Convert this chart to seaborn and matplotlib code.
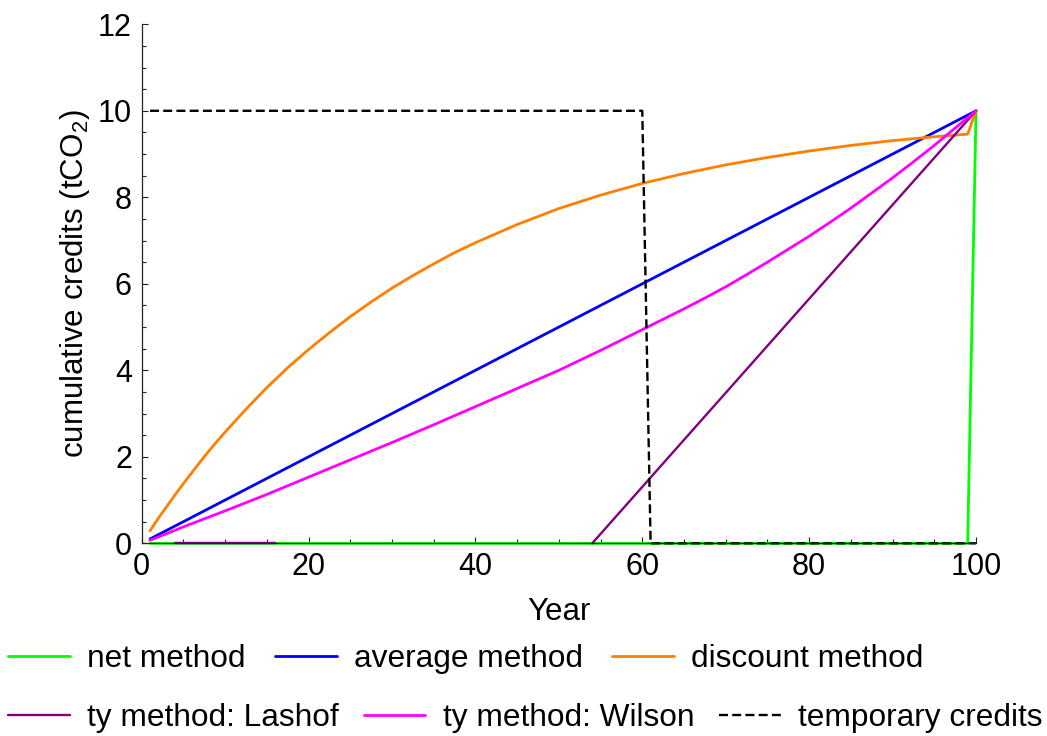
import numpy as np
import pandas as pd
import seaborn as sns
import matplotlib.pyplot as plt
from matplotlib.ticker import MultipleLocator

# ---- data ----
net_years = [1, 99, 100]
net_credits = [0, 0, 10]

avg_years = [1, 100]
avg_credits = [0.1, 10]

disc_years = [1, 2, 3, 4, 5, 6, 7, 8, 9, 10, 12.5, 15, 17.5, 20, 22.5, 25, 27.5, 30, 32.5, 35,
              37.5, 40, 45, 50, 55, 60, 65, 70, 75, 80, 85, 90, 95, 99, 100]
disc_credits = [0.29, 0.58, 0.85, 1.12, 1.38, 1.63, 1.88, 2.12, 2.35, 2.57, 3.10, 3.60, 4.06,
                4.48, 4.87, 5.24, 5.58, 5.90, 6.19, 6.46, 6.72, 6.95, 7.37, 7.74, 8.05, 8.32,
                8.55, 8.75, 8.92, 9.07, 9.20, 9.31, 9.40, 9.46, 10.0]

lashof_years = [4, 16, 54, 100]
lashof_credits = [0, 0, 0, 10]
lashof_segment = [0, 0, 1, 1]

wilson_years = [1, 5, 10, 15, 20, 25, 30, 35, 40, 45, 50, 55, 60, 62.5, 65, 67.5, 70, 72.5,
                75, 77.5, 80, 82.5, 85, 87.5, 90, 92.5, 95, 97.5, 100]
wilson_credits = [0.07, 0.38, 0.75, 1.13, 1.53, 1.93, 2.33, 2.74, 3.16, 3.58, 4.00, 4.46, 4.94,
                  5.18, 5.42, 5.67, 5.93, 6.21, 6.50, 6.80, 7.10, 7.42, 7.75, 8.10, 8.45,
                  8.82, 9.20, 9.60, 10.0]

temp_years = [1, 60, 61, 100]
temp_credits = [10, 10, 0, 0]

labels = ["net method", "average method", "discount method",
          "ty method: Lashof", "ty method: Wilson", "temporary credits"]
colors = ["#00FF00", "#0000FF", "#FF7F00", "#800080", "#FF00FF", "#000000"]

x_ticks_major = 20
y_ticks_major = 2

# ---- style ----
sns.set_style("white")
plt.rcParams['font.family'] = ['Liberation Sans', 'DejaVu Sans']
plt.rcParams['mathtext.fontset'] = 'custom'
plt.rcParams['mathtext.rm'] = 'Liberation Sans'
plt.rcParams['mathtext.it'] = 'Liberation Sans:italic'
for k in ['text.color', 'axes.labelcolor', 'xtick.color', 'ytick.color']:
    plt.rcParams[k] = 'black'

fig = plt.figure(figsize=(10.47, 7.36), dpi=100)
ax = fig.add_axes([0.1353, 0.2618, 0.7969, 0.7052])

lw = 2.0
handles = []

sns.lineplot(x=net_years, y=net_credits, ax=ax, color=colors[0], lw=lw,
             estimator=None, legend=False)
handles.append(ax.lines[-1])

sns.lineplot(x=avg_years, y=avg_credits, ax=ax, color=colors[1], lw=lw,
             estimator=None, legend=False)
handles.append(ax.lines[-1])

sns.lineplot(x=disc_years, y=disc_credits, ax=ax, color=colors[2], lw=lw,
             estimator=None, legend=False)
handles.append(ax.lines[-1])

lashof_df = pd.DataFrame({"year": lashof_years, "credits": lashof_credits,
                          "seg": lashof_segment})
sns.lineplot(data=lashof_df, x="year", y="credits", units="seg", ax=ax,
             color=colors[3], lw=1.7, estimator=None, legend=False)
handles.append(ax.lines[-1])

sns.lineplot(x=wilson_years, y=wilson_credits, ax=ax, color=colors[4], lw=lw,
             estimator=None, legend=False)
handles.append(ax.lines[-1])

sns.lineplot(x=temp_years, y=temp_credits, ax=ax, color=colors[5], lw=1.7,
             estimator=None, legend=False, sort=False)
ax.lines[-1].set_dashes([3.8, 1.8])
handles.append(ax.lines[-1])

for ln in ax.lines:
    ln.set_clip_on(False)
    ln.set_solid_joinstyle("round")

ax.set_xlim(0, 100)
ax.set_ylim(0, 12)
ax.xaxis.set_major_locator(MultipleLocator(x_ticks_major))
ax.xaxis.set_minor_locator(MultipleLocator(5))
ax.yaxis.set_major_locator(MultipleLocator(y_ticks_major))
ax.yaxis.set_minor_locator(MultipleLocator(0.5))

sns.despine(ax=ax)
for s in ["left", "bottom"]:
    ax.spines[s].set_color("#222222")
    ax.spines[s].set_linewidth(0.9)

ax.tick_params(which="both", direction="in", color="#222222", width=0.8,
               labelsize=22, bottom=True, left=True, labelcolor="black")
ax.tick_params(which="major", length=4.5)
ax.tick_params(axis="y", which="major", pad=7)
ax.tick_params(axis="x", which="major", pad=6)
ax.tick_params(which="minor", length=3)

ax.set_xlabel("Year", fontsize=22.5)
ax.set_ylabel("cumulative credits (tCO$_2$)", fontsize=22.5)
ax.xaxis.label.set_va("center")
ax.xaxis.set_label_coords(0.5, -0.1324)
ax.yaxis.label.set_va("center")
ax.yaxis.set_label_coords(-0.080, 0.5)

leg_kw = dict(frameon=False, fontsize=22.8, ncol=3, handlelength=1.95,
              handletextpad=0.55, borderpad=0, borderaxespad=0, loc="center left")
leg1 = fig.legend(handles=handles[:3], labels=labels[:3], columnspacing=0.92,
                  bbox_to_anchor=(0.0076, 0.1046), **leg_kw)
leg2 = fig.legend(handles=handles[3:], labels=labels[3:], columnspacing=0.78,
                  bbox_to_anchor=(0.0076, 0.0245), **leg_kw)

fig.savefig("out.png", dpi=100)
